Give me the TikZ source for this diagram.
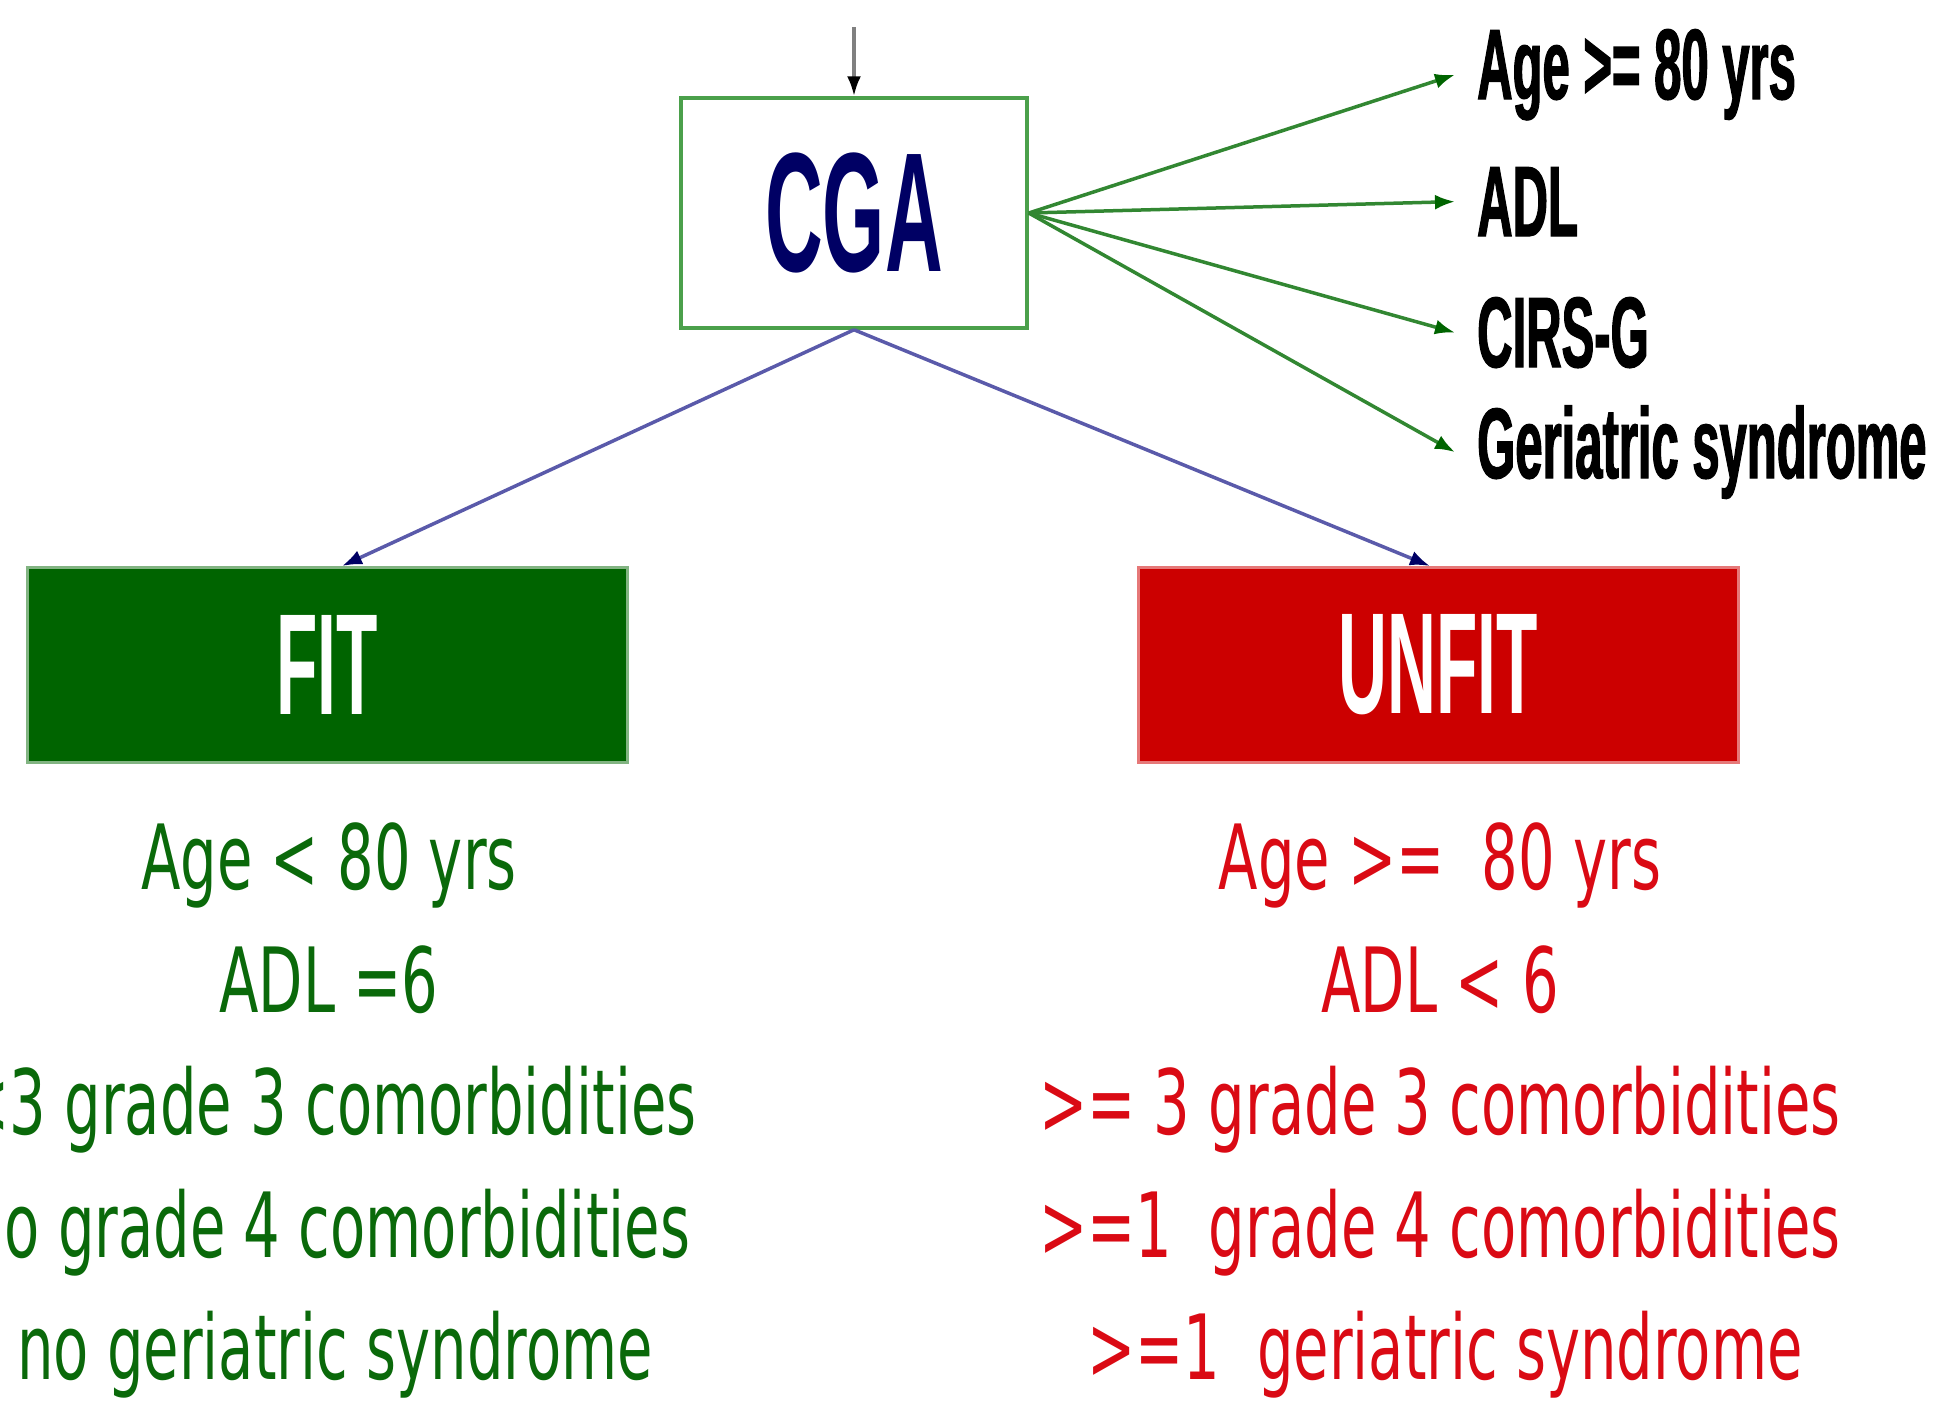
\documentclass[tikz,border=0pt]{standalone}
\usepackage{fontspec}
\newfontfamily\bodyfont[FakeStretch=0.64]{DejaVu Sans}
\newfontfamily\heavyfont[FakeStretch=0.47]{Liberation Sans}
\newfontfamily\critfont[FakeStretch=0.49, FakeBold=1.2]{Liberation Sans}
\usetikzlibrary{arrows.meta, positioning}
\definecolor{fitgreen}{RGB}{10,105,10}
\definecolor{fitfill}{RGB}{0,100,0}
\definecolor{fitedge}{RGB}{130,180,130}
\definecolor{unfitred}{RGB}{218,10,20}
\definecolor{unfitfill}{RGB}{204,0,0}
\definecolor{unfitedge}{RGB}{230,120,120}
\definecolor{cgaedge}{RGB}{75,160,75}
\definecolor{cganavy}{RGB}{0,0,100}
\definecolor{assessline}{RGB}{50,135,50}
\definecolor{splitline}{RGB}{90,90,170}
\tikzset{every node/.style={inner sep=0pt},
         bodytext/.style={font=\bodyfont\fontsize{90}{100}\selectfont, anchor=base},
         fittext/.style={bodytext, text=fitgreen},
         unfittext/.style={bodytext, text=unfitred},
         crit/.style={font=\critfont\bfseries\fontsize{100}{100}\selectfont, anchor=base west, inner xsep=22pt},
         groupbox/.style={draw, line width=3pt, minimum width=600pt, minimum height=195pt,
                          text=white, font=\heavyfont\bfseries\fontsize{144}{150}\selectfont},
         assess/.style={draw=assessline, line width=3.5pt, -{Latex[length=20pt,width=15pt,color=fitfill]}},
         split/.style={draw=splitline, line width=3.5pt, -{Latex[length=20pt,width=15pt,color=cganavy]}}}

\begin{document}
\begin{tikzpicture}[x=1pt,y=-1pt]
        \useasboundingbox (0,0) rectangle (1946,1401);
        \node[draw=cgaedge, line width=3.5pt, minimum width=346pt, minimum height=230pt,
              text=cganavy, font=\heavyfont\bfseries\fontsize{170}{170}\selectfont](cga)at(854,213){CGA};
        \coordinate (top) at (854,27);
        \draw[line width=3.5pt, gray, -{Latex[length=20pt,width=14pt,color=black]}](top)--(cga.north);

        \node[crit](age)at(1455,99){Age >= 80 yrs};
        \node[crit](adl)at(1455,236){ADL};
        \node[crit](cirs)at(1455,367){CIRS-G};
        \node[crit](geri)at(1455,478){Geriatric syndrome};
        \draw[assess](cga.east)--(age.west);
        \draw[assess](cga.east)--(adl.west);
        \draw[assess](cga.east)--(cirs.west);
        \draw[assess](cga.east)--(geri.west);

        \node[groupbox, draw=fitedge, fill=fitfill](fit)at(327,665){FIT};
        \node[groupbox, draw=unfitedge, fill=unfitfill](unfit)at(1438,665){UNFIT};
        \draw[split](cga.south)--([xshift=15pt]fit.north);
        \draw[split](cga.south)--([xshift=-8pt]unfit.north);

        % criteria under each group
        \node[fittext](fa)at(329,889){Age < 80 yrs};
        \node[fittext](fb)at(329,1012){ADL =6};
        \node[fittext](fc)at(329,1134){<3 grade 3 comorbidities};
        \node[fittext](fd)at(329,1257){no grade 4 comorbidities};
        \node[fittext](fe)at(335,1379){no geriatric syndrome};

        \node[unfittext](ua)at(1440,889){Age >=\ \ 80 yrs};
        \node[unfittext](ub)at(1440,1012){ADL < 6};
        \node[unfittext](uc)at(1440,1134){>= 3 grade 3 comorbidities};
        \node[unfittext](ud)at(1440,1257){>=1\ \ grade 4 comorbidities};
        \node[unfittext](ue)at(1445,1379){>=1\ \ geriatric syndrome};
\end{tikzpicture}
\end{document}
